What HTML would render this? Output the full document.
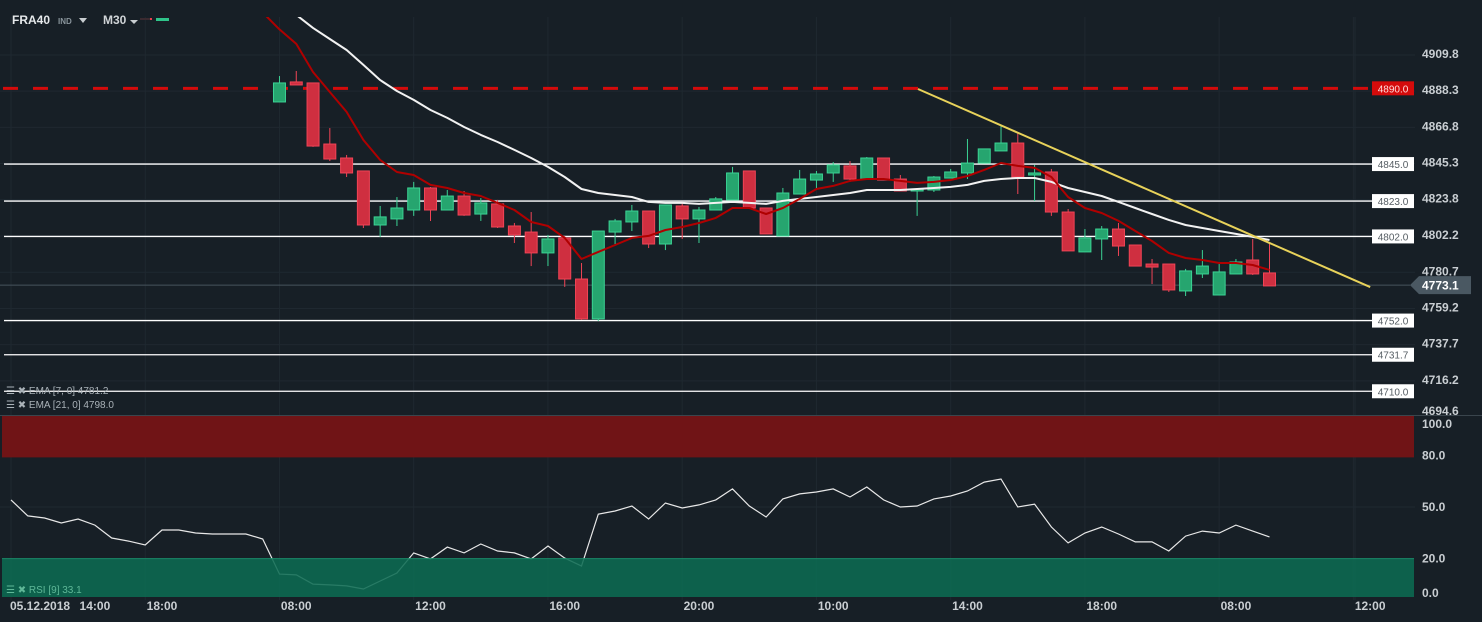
<!DOCTYPE html>
<html><head><meta charset="utf-8"><style>
html,body{margin:0;padding:0;background:#171f26;width:1482px;height:622px;overflow:hidden;font-family:"Liberation Sans",sans-serif}
svg{display:block}
</style></head><body>
<svg id="chart" width="1482" height="622" xmlns="http://www.w3.org/2000/svg">
<rect x="0" y="0" width="1482" height="622" fill="#171f26"/>
<g id="grid"></g>
<g id="levels"></g>
<g id="main" clip-path="url(#mclip)"></g>
<g id="rsi"></g>
<g id="axis"></g>
<defs><clipPath id="mclip"><rect x="0" y="17" width="1415" height="398"/></clipPath></defs>
<g>
<text x="12" y="24" fill="#e6e9eb" font-size="12" font-weight="bold">FRA40</text>
<text x="58" y="24" fill="#8a959c" font-size="8" font-weight="bold">IND</text>
<path d="M79 18 L87 18 L83 23 Z" fill="#c8cdd0"/>
<text x="103" y="24" fill="#d0d4d7" font-size="12" font-weight="bold">M30</text>
<path d="M130 20 L138 20 L134 24 Z" fill="#c8cdd0"/>
<rect x="140" y="18" width="10" height="2" fill="#3a2a30"/>
<rect x="150" y="18" width="2" height="2" fill="#e8404d"/>
<rect x="156" y="18" width="13" height="3" fill="#2fc48a"/>
</g>
<g>
<text x="6" y="394" fill="#aab2b8" font-size="10">☰ ✖ EMA [7, 0] 4781.2</text>
<text x="6" y="408" fill="#aab2b8" font-size="10">☰ ✖ EMA [21, 0] 4798.0</text>
</g>
</svg>
<script>
const NS="http://www.w3.org/2000/svg";
const opens=[4881.9,4893.8,4893.2,4856.9,4848.6,4840.9,4808.8,4812.4,4817.7,4830.8,4817.7,4826.0,4815.3,4821.3,4808.2,4804.6,4792.2,4801.1,4776.7,4753.0,4804.6,4810.6,4817.1,4797.5,4820.1,4812.4,4817.7,4823.7,4840.9,4818.9,4802.3,4827.2,4835.5,4839.7,4843.9,4836.1,4848.6,4836.1,4829.0,4829.6,4836.7,4839.7,4845.6,4852.8,4857.5,4838.5,4840.3,4816.5,4792.8,4800.5,4806.4,4796.9,4785.6,4785.6,4769.6,4779.7,4767.2,4779.7,4788.0,4780.3];
const highs=[4897.3,4900.3,4893.2,4866.4,4850.4,4840.9,4820.1,4825.4,4834.4,4831.4,4829.6,4829.0,4824.8,4823.7,4810.0,4816.5,4802.9,4802.3,4786.2,4805.2,4812.4,4820.7,4817.1,4820.7,4822.5,4819.5,4825.4,4843.3,4840.9,4818.9,4830.8,4841.5,4840.9,4846.2,4846.8,4849.2,4848.6,4838.5,4830.2,4837.9,4842.1,4859.9,4854.0,4868.2,4863.5,4844.5,4842.1,4818.3,4806.4,4808.2,4810.0,4796.9,4788.6,4785.6,4782.7,4793.9,4785.6,4788.6,4800.5,4798.7];
const lows=[4881.9,4892.0,4855.2,4846.8,4837.3,4807.0,4801.7,4808.2,4814.2,4811.2,4817.7,4814.2,4811.2,4807.0,4798.1,4784.4,4784.4,4772.0,4752.4,4751.8,4797.5,4805.2,4795.1,4793.9,4800.5,4798.1,4817.7,4823.7,4818.9,4803.5,4802.3,4827.2,4829.6,4834.4,4834.4,4836.1,4835.5,4829.0,4814.2,4828.4,4836.7,4836.1,4845.6,4852.8,4827.2,4823.1,4814.2,4793.4,4792.8,4788.0,4790.4,4784.4,4773.7,4769.0,4766.6,4777.3,4767.2,4779.7,4779.1,4772.6];
const closes=[4893.2,4892.0,4855.7,4848.0,4839.7,4808.8,4813.6,4818.9,4830.8,4817.7,4826.0,4814.7,4821.9,4807.6,4802.9,4792.2,4800.5,4776.7,4753.0,4805.2,4811.2,4817.1,4797.5,4820.7,4812.4,4817.7,4824.3,4839.7,4818.9,4803.5,4827.8,4836.1,4839.1,4844.5,4836.1,4848.6,4835.5,4829.0,4830.2,4837.3,4840.3,4845.6,4854.0,4857.5,4837.3,4839.7,4816.5,4793.4,4801.1,4806.4,4796.3,4784.4,4783.8,4770.2,4781.5,4784.4,4780.9,4786.8,4779.7,4772.6];
const ema7=[4935.0,4925.0,4916.4,4899.7,4887.8,4876.0,4859.3,4847.4,4840.3,4838.5,4832.6,4830.8,4827.8,4826.0,4821.9,4817.7,4810.6,4808.2,4801.1,4788.6,4792.8,4796.9,4801.1,4802.3,4805.8,4807.6,4810.0,4813.0,4818.9,4818.9,4815.3,4818.9,4824.3,4830.2,4832.0,4835.0,4836.1,4836.1,4835.0,4833.8,4834.4,4835.5,4837.9,4841.5,4845.6,4843.9,4842.7,4837.3,4825.4,4818.9,4815.9,4811.2,4805.2,4799.3,4792.2,4789.2,4788.0,4786.2,4786.2,4785.0,4782.1];
const ema21=[4940.1,4933.6,4925.9,4919.3,4912.8,4903.9,4894.9,4888.4,4883.1,4877.1,4872.4,4867.0,4862.3,4858.1,4853.4,4848.6,4843.3,4837.3,4830.2,4827.8,4826.6,4825.4,4822.5,4821.9,4821.9,4821.3,4821.9,4822.5,4821.9,4821.3,4823.1,4824.3,4825.4,4826.6,4827.8,4829.6,4829.6,4829.6,4830.2,4830.8,4831.4,4832.6,4835.0,4836.1,4836.7,4836.7,4834.4,4830.8,4828.4,4826.0,4822.5,4818.9,4815.3,4811.8,4808.8,4807.0,4805.2,4803.5,4801.7,4799.9];
const rsiValues=[54.1,44.8,43.6,40.7,43.0,39.5,32.0,30.2,27.9,36.6,36.6,34.9,34.3,34.3,34.3,31.4,11.0,10.5,5.2,4.7,4.1,2.3,7.0,11.6,23.3,19.8,26.7,23.3,28.5,24.4,23.3,19.8,27.3,20.3,15.7,45.9,47.7,50.6,43.0,52.3,49.4,51.2,54.1,60.5,50.6,44.2,54.7,57.6,58.7,60.5,55.8,61.6,54.1,50.0,50.6,54.7,56.4,59.3,64.5,66.3,50.0,51.7,38.4,29.1,34.9,38.4,34.3,29.7,29.7,24.4,33.1,36.0,34.9,39.5,36.0,32.6];
const priceTicks=["4909.8","4888.3","4866.8","4845.3","4823.8","4802.2","4780.7","4759.2","4737.7","4716.2"];
const levelValues=[4845.0,4823.0,4802.0,4752.0,4731.7,4710.0];
const rsiTicks=[100,80,50,20,0];
const timeLabels=["14:00","18:00","08:00","12:00","16:00","20:00","10:00","14:00","18:00","08:00","12:00"];
const timeIdx=[5,9,17,25,33,41,49,57,65,73,81];
const resistance=4890.0, lastPrice=4773.1;
const trendStart=[54.05,4889.6], trendEnd=[81.0,4771.9];
const candleStart=16;

const X=i=>11+16.78*i;
const Y=p=>55+(4909.8-p)*1.683;
const R=v=>593-1.72*v;
function mk(tag,attrs,parent){const e=document.createElementNS(NS,tag);for(const k in attrs)e.setAttribute(k,attrs[k]);parent.appendChild(e);return e;}
const grid=document.getElementById('grid'),lv=document.getElementById('levels'),main=document.getElementById('main'),rsi=document.getElementById('rsi'),ax=document.getElementById('axis');

for(let i=0;i<=80;i+=8){const l=mk('line',{x1:X(i),x2:X(i),y1:17,y2:600,stroke:'#1f2830','stroke-width':1},grid);

}
priceTicks.forEach(t=>{const l=mk('line',{x1:0,x2:1415,y1:Y(+t),y2:Y(+t),stroke:'#1f2830'},grid);

});
{const l=mk('line',{x1:0,x2:1415,y1:R(50),y2:R(50),stroke:'#1f2830'},grid);

}
{const l=mk('line',{x1:1355,x2:1355,y1:17,y2:600,stroke:'#1f2830'},grid);

}

levelValues.forEach(v=>{const y=Y(v);
const l=mk('line',{x1:4,x2:1372,y1:y,y2:y,stroke:'#ffffff','stroke-width':1.3},lv);


const b=mk('rect',{x:1372,y:y-7,width:42,height:14,fill:'#ffffff'},lv);


const t=mk('text',{x:1393,y:y+4,fill:'#555d63','font-size':10,'text-anchor':'middle'},lv);t.textContent=v.toFixed(1);

});
{const y=Y(resistance);
const l=mk('line',{x1:3,x2:1372,y1:y,y2:y,stroke:'#d40b0b','stroke-width':3,'stroke-dasharray':'15 15'},lv);


const b=mk('rect',{x:1372,y:y-7,width:42,height:14,fill:'#d40b0b'},lv);


const t=mk('text',{x:1393,y:y+4,fill:'#ffdede','font-size':10,'text-anchor':'middle'},lv);t.textContent=resistance.toFixed(1);


const yl=Y(lastPrice);
const c=mk('line',{x1:0,x2:1410,y1:yl,y2:yl,stroke:'#47535c','stroke-width':1},lv);

}

opens.forEach((o,k)=>{const c=closes[k],h=highs[k],lo=lows[k],x=X(candleStart+k);
const up=c>=o,fill=up?'#26a56f':'#cf2f40',st=up?'#3bd394':'#f04456';
const w=mk('line',{x1:x,x2:x,y1:Y(h),y2:Y(lo),stroke:st,'stroke-width':1},main);


const top=Y(Math.max(o,c)),bh=Math.max(1.5,Math.abs(Y(o)-Y(c)));
const b=mk('rect',{x:x-6,y:top,width:12,height:bh,fill:fill,stroke:st,'stroke-width':1},main);

});
function poly(arr,off,col,w,name){const pts=arr.map((v,i)=>X(off+i).toFixed(1)+','+Y(v).toFixed(1)).join(' ');
const p=mk('polyline',{points:pts,fill:'none',stroke:col,'stroke-width':w,'stroke-linejoin':'round'},main);

}
poly(ema21,candleStart,'#f2f2f2',2,'ema21-line');
poly(ema7,candleStart-1,'#b00000',2,'ema7-line');
{const tl=mk('line',{x1:X(trendStart[0]),y1:Y(trendStart[1]),x2:X(trendEnd[0]),y2:Y(trendEnd[1]),stroke:'#e8d25a','stroke-width':2},main);

}

{const sep=mk('line',{x1:0,x2:1482,y1:415.5,y2:415.5,stroke:'#3a454d'},rsi);


const ob=mk('rect',{x:2,y:416,width:1412,height:R(80)-416+2,fill:'#701416'},rsi);


const pts=rsiValues.map((v,i)=>X(i).toFixed(1)+','+R(v).toFixed(1)).join(' ');
const p=mk('polyline',{points:pts,fill:'none',stroke:'#e8e8e8','stroke-width':1.2},rsi);


const os=mk('rect',{x:2,y:R(20),width:1412,height:597-R(20),fill:'#0d6b52','fill-opacity':0.88},rsi);


const ot=mk('line',{x1:2,x2:1414,y1:R(20),y2:R(20),stroke:'#1a8a68'},rsi);


const lg=mk('text',{x:6,y:593,fill:'#5fb898','font-size':10},rsi);lg.textContent='☰ ✖ RSI [9] 33.1';

}

priceTicks.forEach(t=>{const e=mk('text',{x:1422,y:Y(+t)+3,fill:'#c9ced2','font-size':12,'font-weight':'bold'},ax);e.textContent=t;

});
{const e=mk('text',{x:1422,y:415,fill:'#c9ced2','font-size':12,'font-weight':'bold'},ax);e.textContent='4694.6';

}
{const yl=Y(lastPrice);
const a=mk('path',{d:`M1410 ${yl} L1419 ${yl-9} L1471 ${yl-9} L1471 ${yl+9} L1419 ${yl+9} Z`,fill:'#4a5862'},ax);


const t=mk('text',{x:1422,y:yl+4.5,fill:'#ffffff','font-size':12,'font-weight':'bold'},ax);t.textContent=lastPrice.toFixed(1);

}
rsiTicks.forEach(v=>{const y=v===100?428:R(v)+4;const e=mk('text',{x:1422,y:y,fill:'#c9ced2','font-size':12,'font-weight':'bold'},ax);e.textContent=v.toFixed(1);

});
{const d=mk('text',{x:10,y:610,fill:'#c9ced2','font-size':12,'font-weight':'bold'},ax);d.textContent='05.12.2018';

}
timeLabels.forEach((t,k)=>{const e=mk('text',{x:X(timeIdx[k]),y:610,fill:'#c9ced2','font-size':12,'font-weight':'bold','text-anchor':'middle'},ax);e.textContent=t;

});
</script>
</body></html>
